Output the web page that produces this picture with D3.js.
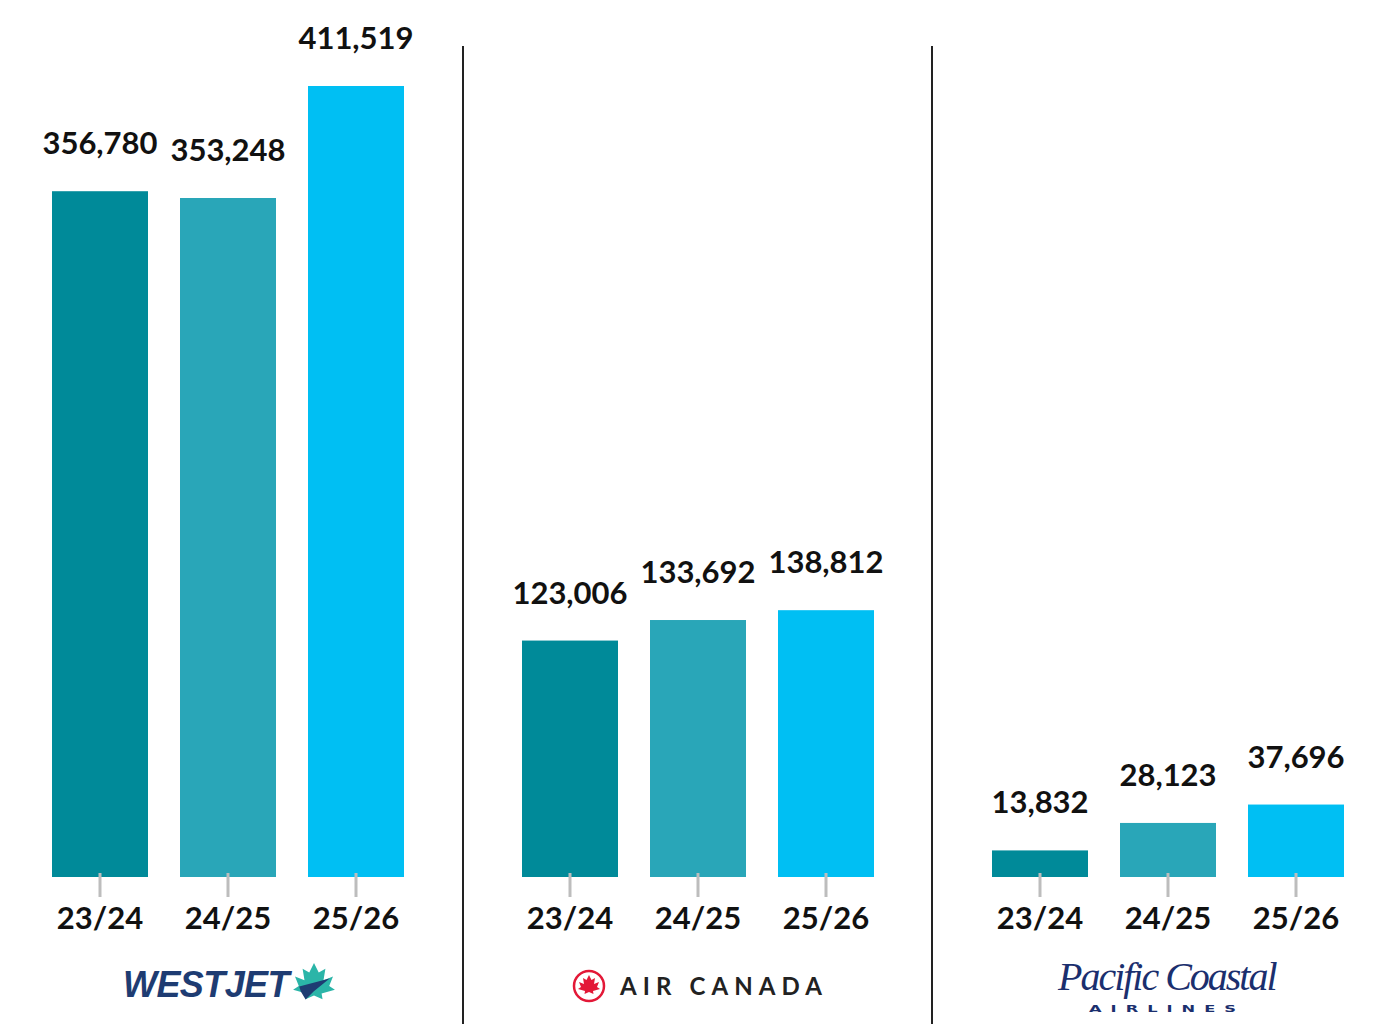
<!DOCTYPE html>
<html><head><meta charset="utf-8">
<script src="https://cdn.jsdelivr.net/npm/d3@7"></script>
<style>body{margin:0;background:#fff;}svg{display:block;}</style>
</head><body>
<svg id="chart" width="1384" height="1024"></svg>
<script>
const seasons = ["23/24", "24/25", "25/26"];
const airlines = ["WestJet", "Air Canada", "Pacific Coastal"];
const westjetValues = [356780, 353248, 411519];
const airCanadaValues = [123006, 133692, 138812];
const pacificCoastalValues = [13832, 28123, 37696];
const seasonColors = ["#008a99", "#29a6b8", "#00bff3"];

const panels = [
  {name: airlines[0], values: westjetValues, range: [36, 420]},
  {name: airlines[1], values: airCanadaValues, range: [506, 890]},
  {name: airlines[2], values: pacificCoastalValues, range: [976, 1360]}
];

const svg = d3.select("#chart");
const baseY = 877;
const y = d3.scaleLinear().domain([0, 411519]).range([baseY, 86]);
const color = d3.scaleOrdinal().domain(seasons).range(seasonColors);
const font = "Lato, 'Open Sans', sans-serif";

panels.forEach((p, pi) => {
  const x = d3.scaleBand().domain(seasons).range(p.range).paddingInner(0.25).paddingOuter(0.125);
  const g = svg.append("g");
  const data = seasons.map((s, i) => ({s, v: p.values[i]}));
  g.selectAll("rect").data(data).join("rect")
    .attr("x", d => x(d.s)).attr("width", x.bandwidth())
    .attr("y", d => y(d.v)).attr("height", d => baseY - y(d.v))
    .attr("fill", d => color(d.s));
  g.selectAll("text.val").data(data).join("text").attr("class", "val")
    .attr("x", d => x(d.s) + x.bandwidth() / 2)
    .attr("y", d => y(d.v) - 37)
    .attr("text-anchor", "middle")
    .attr("font-family", font).attr("font-weight", 700).attr("font-size", 31)
    .attr("fill", "#111")
    .text(d => d3.format(",")(d.v));
  const axis = d3.axisBottom(x).tickSize(24).tickPadding(4);
  const ag = g.append("g").attr("transform", `translate(0,${baseY - 4})`).call(axis);
  ag.select(".domain").remove();
  ag.selectAll(".tick line").attr("stroke", "#bdbdbd").attr("stroke-width", 3);
  ag.selectAll(".tick text").attr("font-family", font).attr("font-weight", 700)
    .attr("font-size", 31).attr("fill", "#111").attr("dy", "0.9em");
});

// dividers
[463, 932].forEach(xp => {
  svg.append("line").attr("x1", xp).attr("x2", xp).attr("y1", 46).attr("y2", 1024)
    .attr("stroke", "#222").attr("stroke-width", 2);
});

// Logos
// WestJet
const wj = svg.append("g").attr("transform", "translate(228,985)");
wj.append("text").attr("x", -105).attr("y", 12).attr("font-family", "'Liberation Sans', Arial, sans-serif")
  .attr("font-weight", 900).attr("font-style", "italic").attr("font-size", 36)
  .attr("letter-spacing", -1.5).attr("fill", "#1e3c72").attr("textLength", 165).text("WESTJET");
const leaf = "M0,-22 L5,-12 L12,-16 L10,-4 L20,-8 L16,2 L22,6 L8,10 L9,16 L0,12 L-9,16 L-8,10 L-22,6 L-16,2 L-20,-8 L-10,-4 L-12,-16 L-5,-12 Z";
wj.append("path").attr("d", leaf).attr("transform", "translate(86,-1) scale(0.95)").attr("fill", "#2bb5a8");
wj.append("path").attr("d", "M-16,2 L22,-8 L2,8 L-8,18 L-14,8 Z").attr("transform", "translate(84,0) scale(0.8)").attr("fill", "#1e3c72");

// Air Canada
const ac = svg.append("g").attr("transform", "translate(589,986)");
ac.append("circle").attr("r", 15).attr("fill", "none").attr("stroke", "#e31837").attr("stroke-width", 2.5);
ac.append("path").attr("d", leaf).attr("transform", "scale(0.5)").attr("fill", "#e31837");
ac.append("text").attr("x", 31).attr("y", 9).attr("font-family", "Lato, sans-serif").attr("font-weight", 700)
  .attr("font-size", 24).attr("fill", "#222").attr("textLength", 202).attr("lengthAdjust", "spacing").text("AIR CANADA");

// Pacific Coastal
const pc = svg.append("g").attr("transform", "translate(1167,982)");
pc.append("text").attr("text-anchor", "middle").attr("y", 8)
  .attr("font-family", "'Liberation Serif', 'DejaVu Serif', serif").attr("font-style", "italic")
  .attr("font-size", 40).attr("letter-spacing", -1.5).attr("fill", "#1b2f6e")
  .attr("textLength", 218).text("Pacific Coastal");
pc.append("text").attr("text-anchor", "middle").attr("y", 30)
  .attr("font-family", "'DejaVu Sans', sans-serif").attr("font-weight", 700)
  .attr("font-size", 9).attr("letter-spacing", 5).attr("fill", "#1b2f6e")
  .attr("textLength", 156).attr("lengthAdjust", "spacingAndGlyphs").text("AIRLINES");
</script>
</body></html>
